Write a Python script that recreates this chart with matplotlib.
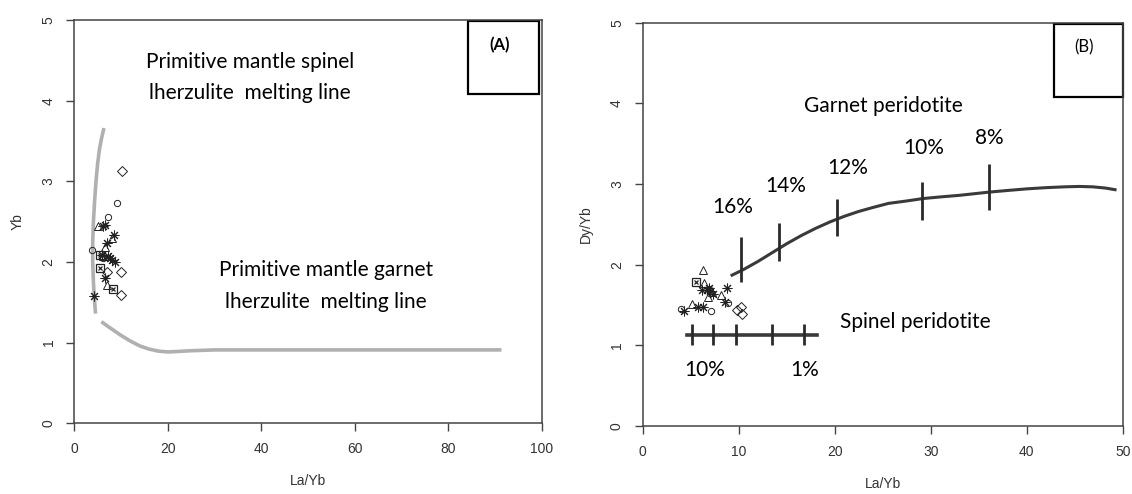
import matplotlib.pyplot as plt

# ---- panel A data ----
spinel_line_x = [6.35, 5.9, 5.4, 5.0, 4.65, 4.35, 4.1, 3.95, 3.95, 4.1, 4.3, 4.55]
spinel_line_y = [3.66, 3.55, 3.40, 3.22, 3.00, 2.75, 2.50, 2.25, 2.00, 1.75, 1.55, 1.36]
garnet_line_x = [5.8, 7.0, 8.5, 10.0, 12.0, 14.0, 16.0, 18.0, 20.0, 22.0, 25.0, 30.0, 91.4]
garnet_line_y = [1.26, 1.21, 1.15, 1.09, 1.02, 0.96, 0.92, 0.895, 0.885, 0.89, 0.90, 0.91, 0.91]

a_circle_x = [9.1, 7.3, 3.9, 6.2]
a_circle_y = [2.73, 2.56, 2.15, 2.05]
a_tri_x = [5.1, 8.0, 6.5, 6.1, 6.9]
a_tri_y = [2.44, 2.30, 2.19, 2.07, 1.71]
a_diam_x = [10.3, 10.1, 6.9, 9.9]
a_diam_y = [3.13, 1.88, 1.88, 1.59]
a_ast_x = [6.1, 6.5, 8.4, 6.9, 5.9, 7.6, 8.7, 6.6, 4.3, 7.2, 8.0]
a_ast_y = [2.45, 2.46, 2.33, 2.23, 2.09, 2.05, 2.00, 1.80, 1.58, 2.07, 2.03]
a_box_x = [5.6, 8.2, 5.5]
a_box_y = [1.92, 1.66, 2.09]

# ---- panel B data ----
gt_curve_x = [9.3, 10.5, 12.0, 13.5, 15.0, 16.5, 18.0, 19.5, 21.0, 22.5, 24.0, 25.6,
              27.5, 29.2, 31.0, 33.0, 36.1, 38.0, 40.0, 42.0, 43.9, 45.5, 46.9, 48.2, 49.2]
gt_curve_y = [1.87, 1.94, 2.04, 2.15, 2.26, 2.36, 2.45, 2.53, 2.60, 2.66, 2.71, 2.76,
              2.79, 2.82, 2.84, 2.86, 2.90, 2.92, 2.94, 2.955, 2.965, 2.97, 2.965, 2.95, 2.93]
gt_tick_x = [10.2, 14.2, 20.2, 29.1, 36.1]
gt_tick_lo = [1.79, 2.04, 2.35, 2.56, 2.68]
gt_tick_hi = [2.34, 2.52, 2.81, 3.03, 3.25]
gt_labels = ["16%", "14%", "12%", "10%", "8%"]
gt_label_x = [9.4, 14.9, 21.4, 29.3, 36.1]
gt_label_y = [2.71, 2.97, 3.20, 3.45, 3.57]

sp_line_x = [4.65, 18.2]
sp_line_y = 1.13
sp_tick_x = [5.14, 7.36, 9.76, 13.45, 16.85]
sp_tick_lo, sp_tick_hi = 1.00, 1.27

b_circle_x = [4.0, 7.1, 8.9, 6.9]
b_circle_y = [1.45, 1.42, 1.53, 1.70]
b_tri_x = [6.3, 6.4, 6.8, 8.1, 5.1, 7.2]
b_tri_y = [1.93, 1.77, 1.60, 1.63, 1.51, 1.66]
b_diam_x = [10.2, 9.8, 10.3]
b_diam_y = [1.48, 1.44, 1.39]
b_ast_x = [6.2, 6.7, 7.0, 8.8, 8.6, 4.3, 6.3, 5.8, 6.9, 7.3]
b_ast_y = [1.69, 1.68, 1.67, 1.71, 1.54, 1.42, 1.48, 1.47, 1.71, 1.64]
b_box_x = [5.5]
b_box_y = [1.78]

ANNOT = dict(family="Lato", fontsize=15, color="black", ha="center", va="center")
AXCOL = "#444444"
TXTCOL = "#333333"


def style_axes(ax, xmax, xticks, ylabel):
    ax.set_xlim(0, xmax)
    ax.set_ylim(0, 5)
    ax.set_xticks(xticks)
    ax.set_yticks(range(6))
    for s in ax.spines.values():
        s.set_color(AXCOL)
        s.set_linewidth(1.1)
    ax.tick_params(direction="out", length=5.5, width=1.0, color=AXCOL,
                   labelcolor=TXTCOL, labelsize=10, pad=8)
    for lab in ax.get_xticklabels() + ax.get_yticklabels():
        lab.set_family("Liberation Sans")
    for lab in ax.get_yticklabels():
        lab.set_rotation(90)
        lab.set_va("center")
    ax.set_xlabel("La/Yb", fontsize=10, color=TXTCOL, family="Liberation Sans", labelpad=13)
    ax.set_ylabel(ylabel, fontsize=10, color=TXTCOL, family="Liberation Sans", labelpad=12)


def draw_points(ax, cx, cy, tx, ty, dx, dy, sx, sy, bx, by):
    kw = dict(linestyle="none", markerfacecolor="none", markeredgecolor="#222222")
    ax.plot(cx, cy, marker="o", markersize=4.5, markeredgewidth=0.7, **kw)
    ax.plot(tx, ty, marker="^", markersize=6, markeredgewidth=0.7, **kw)
    ax.plot(dx, dy, marker="D", markersize=5.5, markeredgewidth=0.7, **kw)
    ax.plot(sx, sy, marker=(8, 2, 0), markersize=7, markeredgewidth=0.75, **kw)
    ax.plot(bx, by, marker="s", markersize=5.5, markeredgewidth=0.9, **kw)
    ax.plot(bx, by, marker="x", markersize=3.5, markeredgewidth=0.9, **kw)


fig = plt.figure(figsize=(11.32, 4.94), dpi=100)

# ---- panel A ----
axA = fig.add_axes([0.0656, 0.1431, 0.4129, 0.8164])
style_axes(axA, 100, range(0, 101, 20), "Yb")
axA.plot(spinel_line_x, spinel_line_y, color="#b0b0b0", lw=2.6, solid_capstyle="butt")
axA.plot(garnet_line_x, garnet_line_y, color="#b0b0b0", lw=2.6, solid_capstyle="butt")
draw_points(axA, a_circle_x, a_circle_y, a_tri_x, a_tri_y, a_diam_x, a_diam_y,
            a_ast_x, a_ast_y, a_box_x, a_box_y)
axA.text(37.6, 4.48, "Primitive mantle spinel", **ANNOT)
axA.text(37.5, 4.10, "lherzulite  melting line", **ANNOT)
axA.text(53.9, 1.90, "Primitive mantle garnet", **ANNOT)
axA.text(53.8, 1.51, "lherzulite  melting line", **ANNOT)
axA.add_patch(plt.Rectangle((84.3, 4.08), 15.1, 0.91, fill=False, ec="black", lw=1.6))
axA.text(91.0, 4.69, "(A)", family="Lato", fontsize=12, fontweight="bold",
         ha="center", va="center")

# ---- panel B ----
axB = fig.add_axes([0.5678, 0.1377, 0.4240, 0.8163])
style_axes(axB, 50, range(0, 51, 10), "Dy/Yb")
axB.plot(gt_curve_x, gt_curve_y, color="#3a3a3a", lw=2.2)
axB.vlines(gt_tick_x, gt_tick_lo, gt_tick_hi, color="#2a2a2a", lw=2.0)
for lx, ly, t in zip(gt_label_x, gt_label_y, gt_labels):
    axB.text(lx, ly, t, **ANNOT)
axB.plot(sp_line_x, [sp_line_y, sp_line_y], color="#3a3a3a", lw=2.6)
axB.vlines(sp_tick_x, sp_tick_lo, sp_tick_hi, color="#2a2a2a", lw=2.0)
draw_points(axB, b_circle_x, b_circle_y, b_tri_x, b_tri_y, b_diam_x, b_diam_y,
            b_ast_x, b_ast_y, b_box_x, b_box_y)
axB.text(25.1, 3.97, "Garnet peridotite", **ANNOT)
axB.text(28.4, 1.29, "Spinel peridotite", **ANNOT)
axB.text(6.5, 0.69, "10%", **ANNOT)
axB.text(16.9, 0.70, "1%", **ANNOT)
axB.add_patch(plt.Rectangle((42.8, 4.08), 7.2, 0.91, fill=False, ec="black", lw=1.6,
                            clip_on=False))
axB.text(46.0, 4.70, "(B)", family="Lato", fontsize=12, ha="center", va="center")

fig.savefig("out.png", dpi=100)
